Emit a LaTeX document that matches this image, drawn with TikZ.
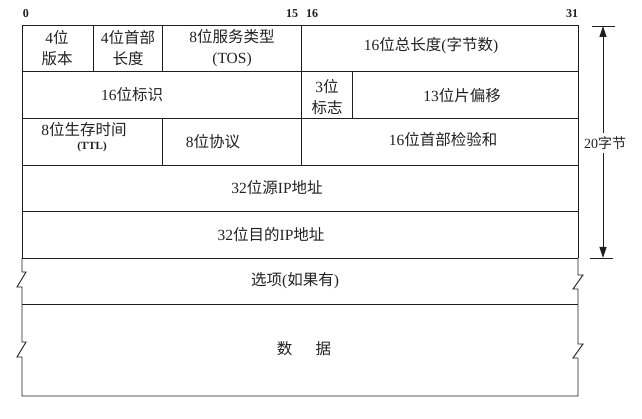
\documentclass[tikz,border=0pt]{standalone}
\usepackage{fontspec}
\setmainfont{Liberation Serif}
\newfontfamily\cjk{Noto Sans CJK SC}
\newcommand\zh[1]{{\cjk #1}}
\usetikzlibrary{arrows.meta}
\definecolor{ink}{HTML}{1E1E1E}
\definecolor{txt}{HTML}{222222}
\begin{document}
\begin{tikzpicture}[x=1pt,y=-1pt,
  frame/.style={draw=ink,line width=0.9pt},
  lbl/.style={inner sep=0pt,text=txt,font=\fontsize{15.5}{21}\selectfont,align=center},
  bitno/.style={inner sep=0pt,text=ink,font=\fontsize{12}{14}\selectfont\bfseries},
  small/.style={inner sep=0pt,text=ink,font=\fontsize{11}{12}\selectfont\bfseries},
  dimarrow/.style={draw=ink,line width=0.9pt,-{Triangle[length=11pt,width=7pt]}}]
\useasboundingbox (0,0) rectangle (642,419);
\fill[white] (0,0) rectangle (642,419);
% outer frame with break marks
\draw[frame] (22,258) -- (22,25) -- (578,25) -- (578,258);
\draw[frame] (22,258) -- (22,272) -- (26,272) -- (17,287) -- (22,287)
  -- (22,342) -- (26,342) -- (17,357) -- (22,357) -- (22,396) -- (578,396)
  -- (578,358) -- (573,358) -- (583,344) -- (578,344) -- (578,289)
  -- (573,289) -- (583,275) -- (578,275) -- (578,258);
% horizontal row lines
\foreach \yy in {71,118,165,211,258,304} \draw[frame] (22,\yy) -- (578,\yy);
% vertical field dividers
\draw[frame] (93,25) -- (93,71);
\draw[frame] (162,25) -- (162,71);
\draw[frame] (301,25) -- (301,165);
\draw[frame] (352,71) -- (352,118);
\draw[frame] (162,118) -- (162,165);
% bit numbers
\node[bitno] (b0) at (26,14) {0};
\node[bitno] (b15) at (292,14) {15};
\node[bitno] (b16) at (312,14) {16};
\node[bitno] (b31) at (572,14) {31};
% field labels
\node[lbl] (ver) at (57,48) {4\zh{位}\\\zh{版本}};
\node[lbl] (ihl) at (128,48) {4\zh{位首部}\\\zh{长度}};
\node[lbl] (tos) at (232,48) {8\zh{位服务类型}\\(TOS)};
\node[lbl] (len) at (431,46) {16\zh{位总长度}(\zh{字节数})};
\node[lbl] (id) at (132,95) {16\zh{位标识}};
\node[lbl] (flg) at (327,97) {3\zh{位}\\\zh{标志}};
\node[lbl] (frag) at (462,96) {13\zh{位片偏移}};
\node[lbl] (ttl) at (84,130) {8\zh{位生存时间}};
\node[small] (ttlb) at (92,147) {(TTL)};
\node[lbl] (proto) at (213,142) {8\zh{位协议}};
\node[lbl] (csum) at (443,140) {16\zh{位首部检验和}};
\node[lbl] (src) at (277,188) {32\zh{位源}IP\zh{地址}};
\node[lbl] (dst) at (271,235) {32\zh{位目的}IP\zh{地址}};
\node[lbl] (opt) at (295,281) {\zh{选项}(\zh{如果有})};
\node[lbl] (data) at (304,349) {\zh{数}\hspace{1.5em}\zh{据}};
% header length dimension
\node[lbl,font=\fontsize{14}{16}\selectfont] (hdr) at (605,143) {20\zh{字节}};
\coordinate (htop) at (603,26);
\coordinate (hbot) at (603,258);
\draw[frame] (592,26) -- (615,26);
\draw[frame] (590,258) -- (613,258);
\draw[dimarrow] (hdr.north -| htop) ++(0,-3) -- (htop);
\draw[dimarrow] (hdr.south -| hbot) ++(0,3) -- (hbot);
\end{tikzpicture}
\end{document}
